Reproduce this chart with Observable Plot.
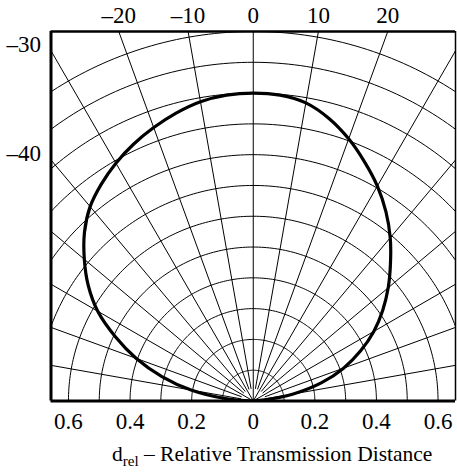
<!DOCTYPE html>
<html><head><meta charset="utf-8">
<script src="https://cdn.jsdelivr.net/npm/d3@7"></script>
<script src="https://cdn.jsdelivr.net/npm/@observablehq/plot@0.6"></script>
<style>body{margin:0;background:#fff} svg{display:block}</style>
</head><body><div id="chart"></div>
<script>
// Angular displacement (deg, from axis) and relative transmission distance d_rel
const angleDeg = [-90, -85, -80, -75, -70, -65, -60, -55, -50, -45, -40, -35, -30, -25, -20, -15, -10, -5, 0, 5, 10, 15, 20, 25, 30, 35, 40, 45, 50, 55, 60, 65, 70, 75, 80, 85, 90];
const dRel =     [0, 0.092, 0.205, 0.307, 0.404, 0.494, 0.583, 0.654, 0.716, 0.775, 0.824, 0.860, 0.892, 0.920, 0.945, 0.968, 0.987, 0.997, 1.0, 0.997, 0.983, 0.950, 0.906, 0.856, 0.806, 0.751, 0.692, 0.630, 0.572, 0.513, 0.452, 0.384, 0.312, 0.230, 0.132, 0.030, 0];
const gridRadii = [0.1, 0.2, 0.3, 0.4, 0.5, 0.6, 0.7, 0.8, 0.9, 1.0, 1.1, 1.2];
const rayAngles = [-80, -70, -60, -50, -40, -30, -20, -10, 0, 10, 20, 30, 40, 50, 60, 70, 80];
const xTicks = [-0.6, -0.4, -0.2, 0, 0.2, 0.4, 0.6];
const topAngleLabels = [-20, -10, 0, 10, 20];
const leftAngleLabels = [-30, -40];

const X = 0.6567, YMAX = 1.2;
const FONT = "'Liberation Serif', Tinos, 'Times New Roman', 'DejaVu Serif', serif";
const rad = d => d * Math.PI / 180;
const fmt = d => d < 0 ? "\u2013" + Math.abs(d) : String(d);

const curvePts = angleDeg.map((a, i) => ({x: dRel[i] * Math.sin(rad(a)), y: dRel[i] * Math.cos(rad(a))}));
const circlePts = gridRadii.flatMap(r => d3.range(-90, 90.5, 1).map(a => ({r, x: r * Math.sin(rad(a)), y: r * Math.cos(rad(a))})));
const rays = rayAngles.map(a => ({a, r0: a % 30 === 0 ? 0 : 0.04}));

const plot = Plot.plot({
  width: 457, height: 475,
  marginLeft: 50.5, marginRight: 2, marginTop: 31, marginBottom: 74.5,
  x: {domain: [-X, X], axis: null},
  y: {domain: [0, YMAX], axis: null},
  style: {fontFamily: FONT, fontSize: "23px", color: "#000", background: "#fff"},
  marks: [
    Plot.line(circlePts, {x: "x", y: "y", z: "r", stroke: "#000", strokeWidth: 1, clip: true}),
    Plot.link(rays, {
      x1: d => d.r0 * Math.sin(rad(d.a)), y1: d => d.r0 * Math.cos(rad(d.a)),
      x2: d => 3 * Math.sin(rad(d.a)), y2: d => 3 * Math.cos(rad(d.a)),
      stroke: "#000", strokeWidth: 1, clip: true
    }),
    Plot.line(curvePts, {x: "x", y: "y", stroke: "#000", strokeWidth: 3.2, curve: "catmull-rom", clip: true}),
    Plot.ruleY([0], {stroke: "#000", strokeWidth: 3}),
    Plot.ruleY([YMAX], {stroke: "#000", strokeWidth: 2.5}),
    Plot.ruleX([-X], {stroke: "#000", strokeWidth: 3}),
    Plot.ruleX([X], {stroke: "#000", strokeWidth: 1.5}),
    Plot.text(xTicks, {x: d => d, y: 0, text: d => String(Math.abs(d)), dy: 27.5, lineAnchor: "bottom", fill: "#000", fontSize: 23}),
    Plot.text(topAngleLabels, {x: d => YMAX * Math.tan(rad(d)), y: YMAX, text: fmt, dy: -9, lineAnchor: "bottom", fill: "#000", fontSize: 23}),
    Plot.text(leftAngleLabels, {x: -X, y: d => X / Math.tan(rad(Math.abs(d))), text: fmt, textAnchor: "end", dx: -10, dy: 1, lineAnchor: "bottom", fill: "#000", fontSize: 23})
  ]
});

const svg = d3.select(plot);
const t = svg.append("text")
  .attr("x", 112).attr("y", 461)
  .attr("text-anchor", "start")
  .attr("font-family", FONT)
  .attr("font-size", 21.5).attr("fill", "#000");
t.append("tspan").text("d");
t.append("tspan").attr("font-size", 15).attr("dy", 5).text("rel");
t.append("tspan").attr("dy", -5).text(" \u2013 Relative Transmission Distance");

document.getElementById("chart").appendChild(plot);
</script>
</body></html>
